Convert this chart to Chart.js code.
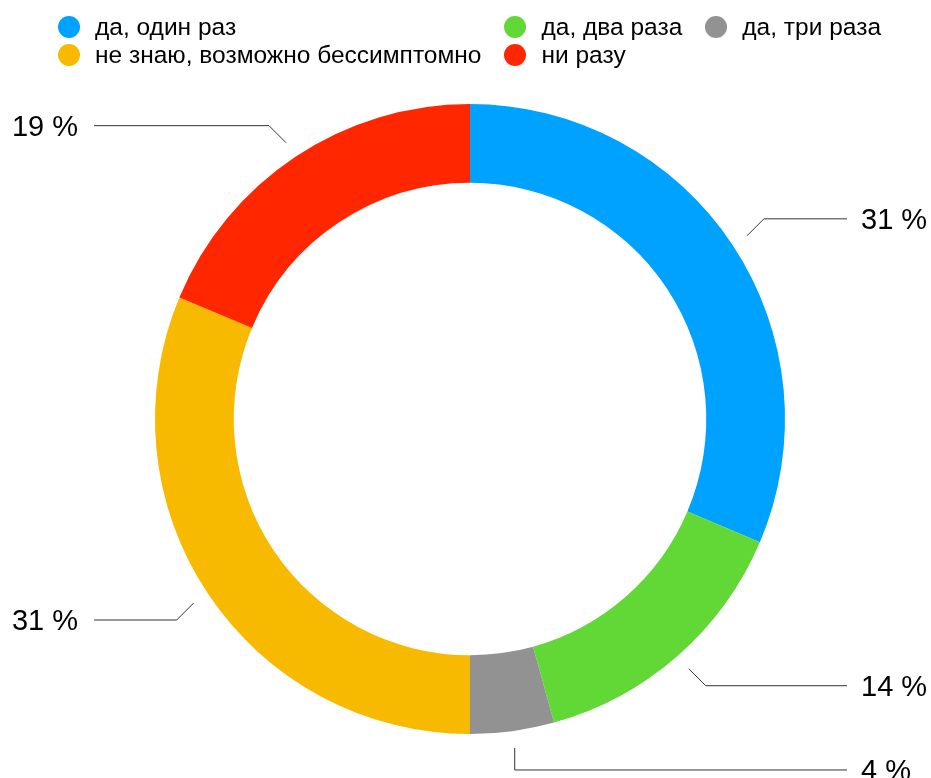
<!DOCTYPE html>
<html>
<head>
<meta charset="utf-8">
<script src="https://cdn.jsdelivr.net/npm/chart.js@4"></script>
<style>
  html, body { margin: 0; padding: 0; background: #fff; }
  #wrap { position: relative; width: 931px; height: 778px; overflow: hidden; }
  #c { position: absolute; left: 0; top: 0; }
  #legend {
    position: absolute; left: 58px; top: 13px;
    display: grid; grid-template-columns: auto auto auto;
    column-gap: 23px; row-gap: 0;
    font-family: "Liberation Sans", Arial, Helvetica, sans-serif;
    font-size: 24.5px; color: #000;
  }
  .item { display: flex; align-items: center; height: 28px; white-space: nowrap; }
  .dot { width: 22px; height: 22px; border-radius: 50%; margin-right: 15px; flex: none; }
</style>
</head>
<body>
<div id="wrap">
  <canvas id="c" width="931" height="778"></canvas>
  <div id="legend"></div>
</div>
<script>
const categories = ["да, один раз", "да, два раза", "да, три раза", "не знаю, возможно бессимптомно", "ни разу"];
const values = [31.4, 14.3, 4.3, 31.3, 18.7];
const colors = ["#00A2FF", "#61D836", "#929292", "#F8BA00", "#FF2600"];

// HTML legend (grid, row-major like reference)
const legend = document.getElementById('legend');
categories.forEach((name, i) => {
  const it = document.createElement('div');
  it.className = 'item';
  const d = document.createElement('span');
  d.className = 'dot';
  d.style.background = colors[i];
  const t = document.createElement('span');
  t.textContent = name;
  it.appendChild(d); it.appendChild(t);
  legend.appendChild(it);
});

const total = values.reduce((a, b) => a + b, 0);

const calloutPlugin = {
  id: 'callouts',
  afterDatasetsDraw(chart) {
    const ctx = chart.ctx;
    const meta = chart.getDatasetMeta(0);
    ctx.save();
    ctx.strokeStyle = '#333';
    ctx.lineWidth = 1;
    ctx.font = '29px "Liberation Sans", Arial, Helvetica, sans-serif';
    ctx.fillStyle = '#000';
    meta.data.forEach((arc, i) => {
      const p = arc.getProps(['x', 'y', 'startAngle', 'endAngle', 'outerRadius'], true);
      const mid = (p.startAngle + p.endAngle) / 2;
      const c = Math.cos(mid), s = Math.sin(mid);
      const r0 = p.outerRadius + 17;
      const x0 = p.x + r0 * c, y0 = p.y + r0 * s;
      let x1, y1;
      if (Math.abs(c) < 0.25) {
        x1 = x0; y1 = y0 + 22 * Math.sign(s);
      } else {
        x1 = x0 + 17 * Math.sign(c); y1 = y0 + 17 * Math.sign(s);
      }
      const right = c >= 0;
      const x2 = right ? p.x + p.outerRadius + 62 : p.x - p.outerRadius - 61;
      ctx.beginPath();
      ctx.moveTo(x0, y0);
      ctx.lineTo(x1, y1);
      ctx.lineTo(x2, y1);
      ctx.stroke();
      const label = Math.round(values[i] / total * 100) + ' %';
      ctx.textBaseline = 'alphabetic';
      ctx.textAlign = right ? 'left' : 'right';
      ctx.fillText(label, right ? x2 + 14 : x2 - 16, y1 + 10);
    });
    ctx.restore();
  }
};

new Chart(document.getElementById('c'), {
  type: 'doughnut',
  data: {
    labels: categories,
    datasets: [{
      data: values,
      backgroundColor: colors,
      borderWidth: 0,
      hoverOffset: 0
    }]
  },
  options: {
    responsive: false,
    animation: false,
    cutout: '75%',
    layout: { padding: { top: 104, bottom: 44, left: 155, right: 146 } },
    plugins: {
      legend: { display: false },
      tooltip: { enabled: false }
    }
  },
  plugins: [calloutPlugin]
});
</script>
</body>
</html>
